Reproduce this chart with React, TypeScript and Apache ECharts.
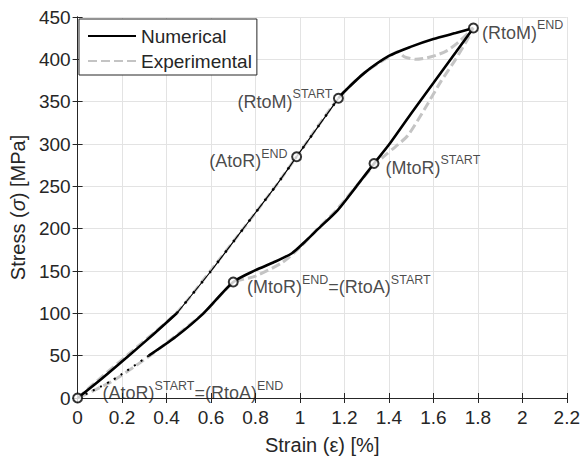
import React, { useEffect, useRef } from "react";
import * as echarts from "echarts";

// ---- data ----
const loadStrain = [0, 0.1, 0.23, 0.34, 0.446, 0.6, 0.745, 0.89, 0.985, 1.08, 1.173, 1.2, 1.29, 1.4, 1.5, 1.6, 1.7, 1.78];
const loadStress = [0, 21, 50, 75, 100, 150, 200, 250, 285, 320, 354, 362, 384, 404, 415, 424, 431, 437];

const unloadStrain = [1.78, 1.7, 1.6, 1.5, 1.4, 1.333, 1.254, 1.17, 1.083, 1.02, 0.964, 0.88, 0.8, 0.7, 0.566, 0.44, 0.32, 0.15, 0];
const unloadStress = [437, 408, 372, 336, 299, 277, 250, 222, 200, 184, 171, 160, 151, 137, 100, 72, 50, 20, 0];

const expLoadStrain = [0, 0.1, 0.23, 0.446, 0.6, 0.745, 0.89, 0.985, 1.173, 1.29, 1.4, 1.44, 1.47, 1.52, 1.59, 1.66, 1.72, 1.78];
const expLoadStress = [0, 23, 52, 101, 151, 200, 250, 285, 354, 384, 403, 409, 403, 400, 403, 410, 422, 437];

const expUnloadStrain = [1.78, 1.75, 1.7, 1.634, 1.56, 1.485, 1.43, 1.38, 1.333, 1.25, 1.16, 1.08, 1.0, 0.92, 0.8, 0.7, 0.566, 0.32, 0.15, 0];
const expUnloadStress = [437, 422, 400, 374, 341, 310, 297, 286, 275, 249, 221, 200, 178, 160, 144, 136, 100, 49, 19, 0];

const markStrain = [0, 0.985, 1.173, 1.78, 1.333, 0.7];
const markStress = [0, 285, 354, 437, 277, 137];
const markLabels = [
  "{a|(AtoR)}{s|START}{a|=(RtoA)}{s|END}",
  "{a|(AtoR)}{s|END}",
  "{a|(RtoM)}{s|START}",
  "{a|(RtoM)}{s|END}",
  "{a|(MtoR)}{s|START}",
  "{a|(MtoR)}{s|END}{a|=(RtoA)}{s|START}",
];
const markLabelSide = ["right", "left", "left", "right", "right", "right"];
const markLabelShift = [
  [14.5, -5],
  [1.5, 4.5],
  [4.5, 3.5],
  [-2, 4.5],
  [1, 4.5],
  [3.2, 5],
];

const xTicks = { min: 0, max: 2.2, interval: 0.2 };
const yTicks = { min: 0, max: 450, interval: 50 };

const LOAD_THIN_FROM = 4;
const LOAD_THIN_TO = 10;
const UNLOAD_DOT_FROM = 16;

const zip = (xs: number[], ys: number[]) => xs.map((x, i) => [x, ys[i]]);

const TXT = "#262626";
const FONT = "'Liberation Sans', Arial, Helvetica, sans-serif";

export default function App() {
  const ref = useRef<HTMLDivElement>(null);
  useEffect(() => {
    if (!ref.current) return;
    const chart = echarts.init(ref.current, undefined, { renderer: "svg" });
    const load = zip(loadStrain, loadStress);
    const unload = zip(unloadStrain, unloadStress);
    const exp = zip(expLoadStrain, expLoadStress).concat(zip(expUnloadStrain, expUnloadStress).slice(1));

    const numThick = { color: "#000", width: 2.6, type: "solid" as const };
    const base = { type: "line" as const, symbol: "none", showSymbol: false, silent: true, smooth: 0.25 };

    chart.setOption({
      animation: false,
      textStyle: { fontFamily: FONT, color: TXT },
      grid: { left: 74, right: 16, top: 17, bottom: 62 },
      legend: {
        data: ["Numerical", "Experimental"],
        orient: "vertical",
        left: 79,
        top: 19,
        itemWidth: 48,
        itemHeight: 14,
        itemGap: 5,
        padding: [7, 5, 4, 8],
        borderColor: "#262626",
        borderWidth: 1,
        backgroundColor: "#fff",
        itemStyle: { opacity: 0 },
        textStyle: { fontSize: 19, color: TXT, fontFamily: FONT, lineHeight: 20 },
      },
      xAxis: [
        {
          type: "value",
          ...xTicks,
          name: "Strain (ε) [%]",
          nameLocation: "middle",
          nameGap: 37,
          nameTextStyle: { fontSize: 20, color: TXT, fontFamily: FONT },
          axisLine: { show: true, lineStyle: { color: TXT, width: 1 } },
          axisTick: { show: true, inside: true, length: 5, lineStyle: { color: TXT } },
          axisLabel: { fontSize: 19, color: TXT, margin: 10, fontFamily: FONT },
          splitLine: { show: true, lineStyle: { color: "#e3e3e3", width: 1 } },
        },
        {
          type: "value",
          position: "top",
          ...xTicks,
          axisLine: { show: true, lineStyle: { color: TXT, width: 1 } },
          axisTick: { show: true, inside: true, length: 5, lineStyle: { color: TXT } },
          axisLabel: { show: false },
          splitLine: { show: false },
        },
      ],
      yAxis: [
        {
          type: "value",
          ...yTicks,
          name: "{n|Stress (}{i|σ}{n|) [MPa]}",
          nameLocation: "middle",
          nameGap: 49,
          nameTextStyle: {
            rich: {
              n: { fontSize: 20, color: TXT, fontFamily: FONT },
              i: { fontSize: 20, color: TXT, fontFamily: FONT, fontStyle: "italic" },
            },
          },
          axisLine: { show: true, lineStyle: { color: TXT, width: 1 } },
          axisTick: { show: true, inside: true, length: 5, lineStyle: { color: TXT } },
          axisLabel: { fontSize: 19, color: TXT, margin: 7, fontFamily: FONT },
          splitLine: { show: true, lineStyle: { color: "#e3e3e3", width: 1 } },
        },
        {
          type: "value",
          position: "right",
          ...yTicks,
          axisLine: { show: true, lineStyle: { color: TXT, width: 1 } },
          axisTick: { show: true, inside: true, length: 5, lineStyle: { color: TXT } },
          axisLabel: { show: false },
          splitLine: { show: false },
        },
      ],
      series: [
        {
          ...base,
          name: "Experimental",
          data: exp,
          lineStyle: { color: "#c4c4c4", width: 3, type: [9, 4] },
          itemStyle: { color: "#c4c4c4" },
          z: 1,
        },
        {
          ...base,
          name: "Numerical",
          data: load.slice(0, LOAD_THIN_FROM + 1),
          lineStyle: numThick,
          itemStyle: { color: "#000" },
          z: 2,
        },
        {
          ...base,
          name: "num-thin",
          data: load.slice(LOAD_THIN_FROM, LOAD_THIN_TO + 1),
          lineStyle: { color: "#000", width: 1.2 },
          z: 2,
        },
        {
          ...base,
          name: "num-thin-dots",
          data: load.slice(LOAD_THIN_FROM, LOAD_THIN_TO + 1),
          lineStyle: { color: "#000", width: 2.4, type: [2, 11] },
          z: 2,
        },
        {
          ...base,
          name: "num-load-end",
          data: load.slice(LOAD_THIN_TO),
          lineStyle: numThick,
          z: 2,
        },
        {
          ...base,
          name: "num-unload",
          data: unload.slice(0, UNLOAD_DOT_FROM + 1),
          lineStyle: numThick,
          z: 2,
        },
        {
          ...base,
          name: "num-unload-dot",
          data: unload.slice(UNLOAD_DOT_FROM),
          lineStyle: { color: "#000", width: 2, type: [2, 6] },
          z: 2,
        },
        {
          type: "scatter",
          name: "marks",
          clip: false,
          silent: true,
          symbol: "emptyCircle",
          symbolSize: 9,
          itemStyle: { color: "#000", borderColor: "#000", borderWidth: 1 },
          z: 3,
          data: markStrain.map((x, i) => ({
            value: [x, markStress[i]],
            label: {
              show: true,
              position: markLabelSide[i],
              offset: markLabelShift[i],
              formatter: markLabels[i],
              rich: {
                a: { fontSize: 18, lineHeight: 28, color: "#1a1a1a", fontFamily: FONT },
                s: { fontSize: 12.5, lineHeight: 12, color: "#1a1a1a", fontFamily: FONT, verticalAlign: "top" },
              },
            },
          })),
        },
      ],
    });
    return () => chart.dispose();
  }, []);
  return <div ref={ref} style={{ position: "fixed", left: 0, top: 0, width: 583, height: 460, background: "#fff" }} />;
}
